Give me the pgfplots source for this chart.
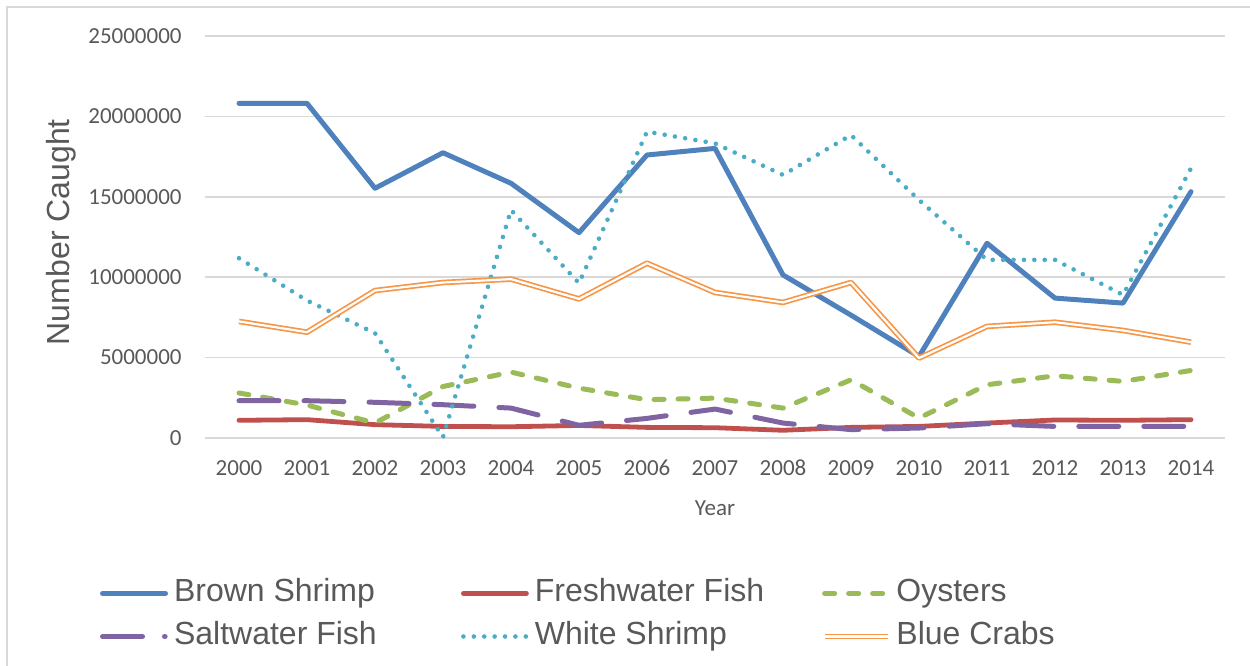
\documentclass[border=0pt]{standalone}
\usepackage{fontspec}
\setmainfont{Carlito}
\newfontfamily\arialf{Liberation Sans}
\usepackage{pgfplots}
\pgfplotsset{compat=1.18}
\definecolor{cBrown}{HTML}{4F81BD}
\definecolor{cRed}{HTML}{C0504D}
\definecolor{cGreen}{HTML}{9BBB59}
\definecolor{cPurple}{HTML}{8064A2}
\definecolor{cCyan}{HTML}{4BACC6}
\definecolor{cOrange}{HTML}{F79646}
\definecolor{gridc}{HTML}{D9D9D9}
\definecolor{textc}{HTML}{595959}
\pgfplotsset{saltleg/.style={legend image code/.code={\path (0bp,0bp) (34bp,0bp); \draw[##1, dash pattern=on 20bp off 11bp] (0bp,0bp) -- (31.3bp,0bp);}}}
\begin{document}
\begin{tikzpicture}
\useasboundingbox (0,0) rectangle (625bp,333bp);
\draw[color=gridc, line width=0.6bp] (3.5bp,0) -- (3.5bp,329.5bp) -- (625bp,329.5bp);
\begin{axis}[
  at={(102.5bp,114bp)}, anchor=south west,
  width=510bp, height=201bp, scale only axis,
  xmin=-0.5, xmax=14.5, ymin=0, ymax=25000000,
  axis line style={draw=none}, major tick length=0pt,
  clip=false,
  scaled y ticks=false,
  /pgf/number format/assume math mode=true,
  xtick={0,1,2,3,4,5,6,7,8,9,10,11,12,13,14},
  xticklabels={2000,2001,2002,2003,2004,2005,2006,2007,2008,2009,2010,2011,2012,2013,2014},
  ytick={0,5000000,10000000,15000000,20000000,25000000},
  yticklabels={0,5000000,10000000,15000000,20000000,25000000},
  ymajorgrids, grid style={color=gridc, line width=0.85bp},
  xticklabel style={font=\fontsize{11.5bp}{13bp}\selectfont, text=textc, anchor=north, inner sep=0pt, text height=7.5bp, text depth=0pt, yshift=-11bp},
  yticklabel style={font=\fontsize{11.5bp}{13bp}\selectfont, text=textc, anchor=east, inner sep=0pt, xshift=-11.5bp},
  xlabel={Year},
  xlabel style={font=\fontsize{11.5bp}{13bp}\selectfont, text=textc, at={(axis description cs:0.5,0)}, anchor=center, yshift=-35bp},
  ylabel={Number Caught},
  ylabel style={font=\arialf\fontsize{16bp}{19bp}\selectfont, text=textc, at={(axis description cs:-0.1405,0.512)}, anchor=center},
  legend columns=3,
  legend cell align=left,
  legend style={at={(axis description cs:-0.1029,-0.3495)}, anchor=north west, draw=none, fill=none,
    inner sep=0pt, outer sep=0pt, column sep=0pt, row sep=6.5bp,
    font=\arialf\fontsize{16bp}{19bp}\selectfont, text=textc,
    nodes={inner sep=0pt, text height=11.5bp, text depth=3.5bp}},
  legend image code/.code={\path (0bp,0bp) (34bp,0bp); \draw[#1] (0bp,0bp) -- (31.5bp,0bp);},
]
\addplot[color=cBrown, line width=2.5bp, line join=round, line cap=round] coordinates {
(0,20810000) (1,20810000) (2,15530000) (3,17740000) (4,15840000) (5,12770000) (6,17600000) (7,18010000)
(8,10140000) (9,7640000) (10,5070000) (11,12110000) (12,8700000) (13,8390000) (14,15320000)};
\addlegendentry{\hspace{0.5bp}\makebox[143.5bp][l]{Brown Shrimp}}
\addplot[color=cRed, line width=2.4bp, line join=round, line cap=round] coordinates {
(0,1100000) (1,1140000) (2,830000) (3,720000) (4,700000) (5,780000) (6,660000) (7,640000)
(8,480000) (9,660000) (10,720000) (11,930000) (12,1120000) (13,1100000) (14,1140000)};
\addlegendentry{\hspace{0.5bp}\makebox[143.5bp][l]{Freshwater Fish}}
\addplot[color=cGreen, line width=2.5bp, line join=round, line cap=round, dash pattern=on 5bp off 7bp] coordinates {
(0,2800000) (1,2050000) (2,930000) (3,3200000) (4,4100000) (5,3100000) (6,2380000) (7,2480000)
(8,1860000) (9,3620000) (10,1240000) (11,3310000) (12,3870000) (13,3520000) (14,4200000)};
\addlegendentry{\hspace{0.5bp}\makebox[143.5bp][l]{Oysters}}
\addplot[color=cPurple, line width=2.5bp, line join=round, line cap=round, dash pattern=on 20bp off 12.5bp, saltleg] coordinates {
(0,2320000) (1,2320000) (2,2220000) (3,2070000) (4,1860000) (5,790000) (6,1220000) (7,1800000)
(8,930000) (9,520000) (10,620000) (11,890000) (12,720000) (13,720000) (14,720000)};
\addlegendentry{\hspace{0.5bp}\makebox[143.5bp][l]{Saltwater Fish}}
\addplot[color=cCyan, line width=2.3bp, line join=round, line cap=round, dash pattern=on 0bp off 5.2bp] coordinates {
(0,11180000) (1,8550000) (2,6520000) (3,50000) (4,14180000) (5,9630000) (6,19050000) (7,18320000)
(8,16360000) (9,18840000) (10,14800000) (11,11080000) (12,11080000) (13,8900000) (14,16770000)};
\addlegendentry{\hspace{0.5bp}\makebox[143.5bp][l]{White Shrimp}}
\addplot[color=cOrange, line width=0.85bp, double=white, double distance=1.1bp, line join=round] coordinates {
(0,7250000) (1,6580000) (2,9170000) (3,9670000) (4,9880000) (5,8650000) (6,10870000) (7,9050000)
(8,8430000) (9,9670000) (10,4970000) (11,6940000) (12,7200000) (13,6690000) (14,5960000)};
\addlegendentry{\hspace{0.5bp}\makebox[143.5bp][l]{Blue Crabs}}
\end{axis}
\end{tikzpicture}
\end{document}
